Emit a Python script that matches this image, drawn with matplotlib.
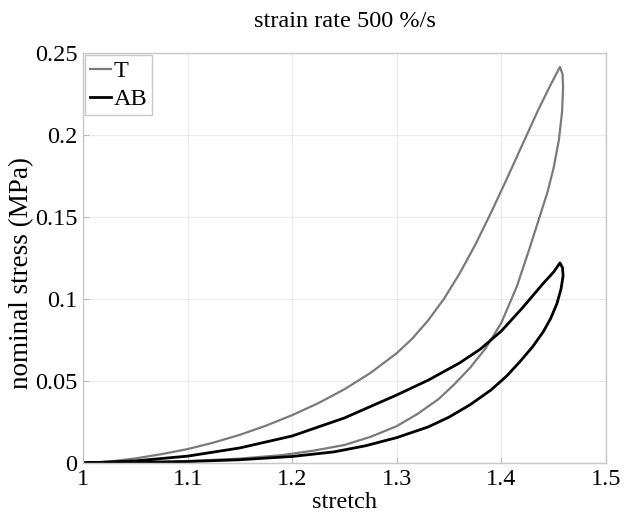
import numpy as np
import matplotlib
matplotlib.use("Agg")
import matplotlib.pyplot as plt

# T loop: loading then unloading (stretch, nominal stress in MPa)
t_load_s = [1.0, 1.025, 1.05, 1.075, 1.10, 1.125, 1.15, 1.175, 1.20, 1.225, 1.25, 1.275, 1.30,
            1.315, 1.33, 1.345, 1.36, 1.375, 1.39, 1.405, 1.42, 1.435, 1.447, 1.456]
t_load_y = [0, 0.0009, 0.0028, 0.0054, 0.0085, 0.0125, 0.0172, 0.0228, 0.0292, 0.0365, 0.0450,
            0.0550, 0.0670, 0.0760, 0.0870, 0.1000, 0.1155, 0.1330, 0.1525, 0.1730, 0.1940,
            0.2150, 0.2305, 0.2415]
t_unload_s = [1.456, 1.4585, 1.459, 1.458, 1.455, 1.450, 1.444, 1.436, 1.427, 1.415, 1.400, 1.385,
              1.370, 1.355, 1.340, 1.320, 1.300, 1.275, 1.25, 1.22, 1.19, 1.15, 1.10, 1.05, 1.0]
t_unload_y = [0.2415, 0.237, 0.229, 0.214, 0.197, 0.180, 0.165, 0.149, 0.131, 0.108, 0.0855, 0.070,
              0.058, 0.048, 0.039, 0.030, 0.0225, 0.016, 0.011, 0.0075, 0.0048, 0.0027, 0.0012,
              0.0004, 0]

# AB loop
ab_load_s = [1.0, 1.05, 1.10, 1.15, 1.20, 1.25, 1.30, 1.33, 1.36, 1.38, 1.40, 1.42, 1.44, 1.45, 1.456]
ab_load_y = [0, 0.0013, 0.0042, 0.0092, 0.0165, 0.0275, 0.0415, 0.0505, 0.061, 0.0695, 0.0805,
             0.0945, 0.1095, 0.1165, 0.122]
ab_unload_s = [1.456, 1.4585, 1.459, 1.457, 1.453, 1.447, 1.440, 1.430, 1.418, 1.405, 1.390, 1.370,
               1.350, 1.330, 1.300, 1.270, 1.240, 1.20, 1.15, 1.10, 1.05, 1.0]
ab_unload_y = [0.122, 0.119, 0.114, 0.106, 0.097, 0.088, 0.080, 0.071, 0.062, 0.053, 0.0445, 0.0355,
               0.028, 0.022, 0.0155, 0.0105, 0.0068, 0.0040, 0.0020, 0.0009, 0.0003, 0]

xticks = [1, 1.1, 1.2, 1.3, 1.4, 1.5]
xticklabels = ["1", "1.1", "1.2", "1.3", "1.4", "1.5"]
yticks = [0, 0.05, 0.1, 0.15, 0.2, 0.25]
yticklabels = ["0", "0.05", "0.1", "0.15", "0.2", "0.25"]

plt.rcParams["font.family"] = ["Liberation Serif", "DejaVu Serif"]
plt.rcParams["font.size"] = 17.5

fig = plt.figure(figsize=(6.26, 5.17), dpi=100)
ax = fig.add_axes([0.1326, 0.1044, 0.8354, 0.7931])

ax.plot(t_load_s + t_unload_s[1:], t_load_y + t_unload_y[1:], color="#7a7a7a", lw=1.6, label="T")
ax.plot(ab_load_s + ab_unload_s[1:], ab_load_y + ab_unload_y[1:], color="black", lw=2.0, label="AB")

ax.set_xlim(1, 1.5)
ax.set_ylim(0, 0.25)
ax.set_xticks(xticks)
ax.set_xticklabels(xticklabels)
ax.set_yticks(yticks)
ax.set_yticklabels(yticklabels)
ax.tick_params(direction="in", length=4, color="#bbbbbb", pad=4)

ax.grid(True, color="#ebebeb", lw=0.9)
ax.set_axisbelow(True)
for sp in ax.spines.values():
    sp.set_color("#c8c8c8")
    sp.set_linewidth(1.0)

ax.set_xlabel("stretch", labelpad=2)
ax.set_ylabel("nominal stress (MPa)", fontsize=19.5)
ax.yaxis.set_label_coords(-0.094, 0.463)
ax.set_title("strain rate 500 %/s", fontsize=17.5, pad=19)

leg = ax.legend(loc="upper left", handlelength=0.85, handletextpad=0.1, borderpad=0.2,
                labelspacing=0.25, borderaxespad=0.1, fancybox=False, framealpha=1,
                edgecolor="#c8c8c8")
leg.get_frame().set_linewidth(1.0)

fig.savefig("out.png", dpi=100)
